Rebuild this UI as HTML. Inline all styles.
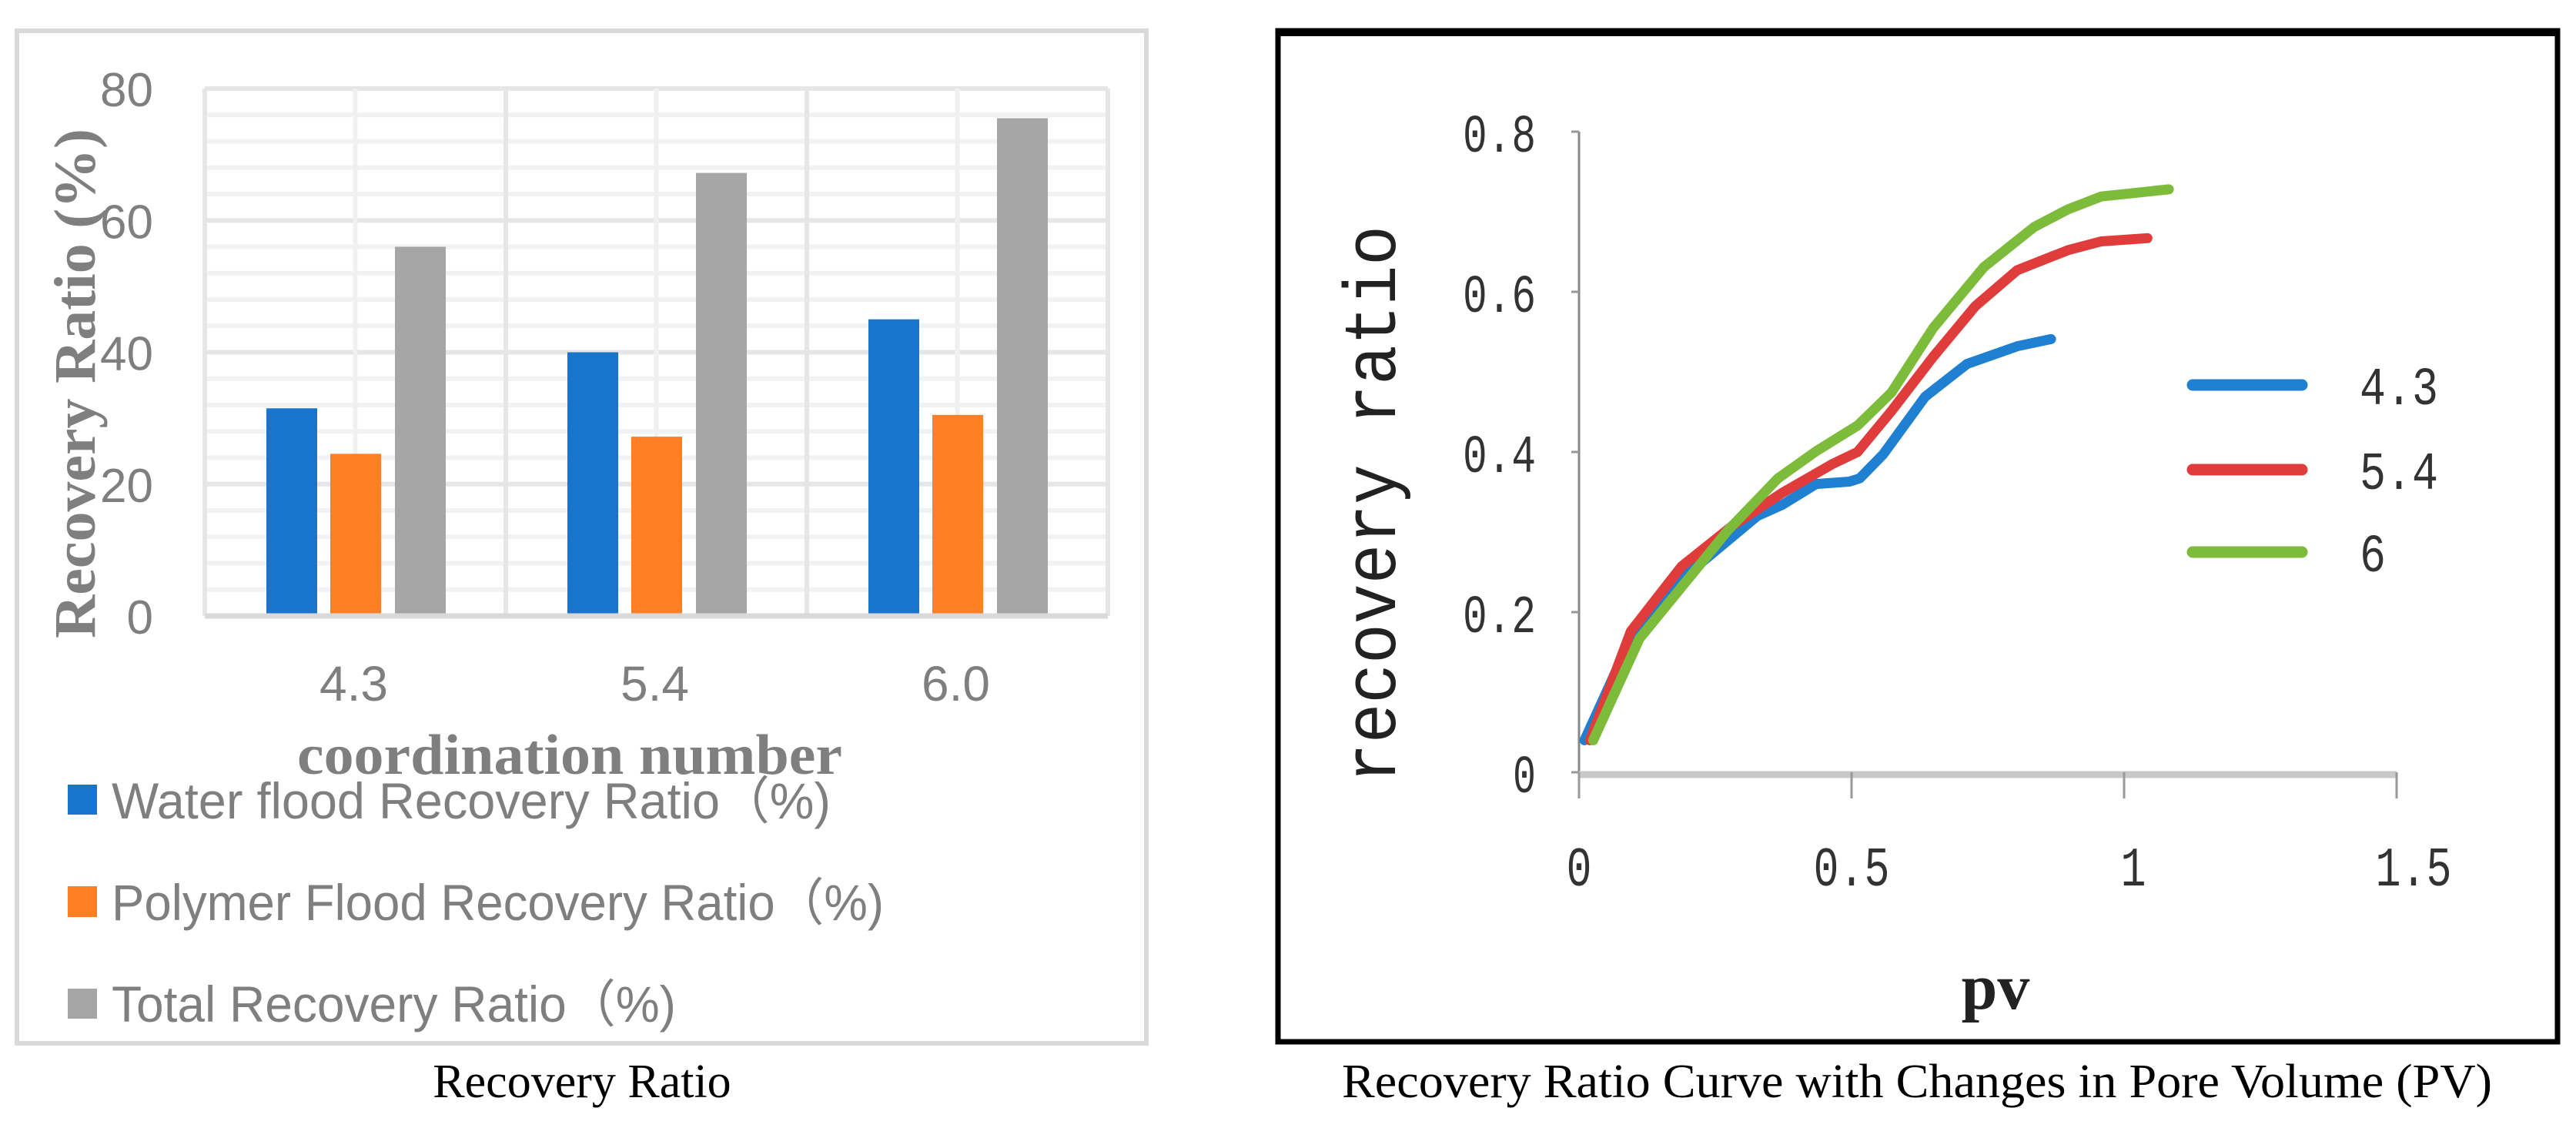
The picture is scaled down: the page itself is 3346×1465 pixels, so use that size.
<!DOCTYPE html>
<html><head><meta charset="utf-8"><style>
html,body{margin:0;padding:0;background:#fff;}
svg{display:block;}
</style></head><body>
<svg id="fig" width="3346" height="1465" viewBox="0 0 3346 1465" xmlns="http://www.w3.org/2000/svg">
<rect x="0" y="0" width="3346" height="1465" fill="#fff"/>
<g id="left">
<rect x="22" y="40" width="1467" height="1315" fill="#fff" stroke="#d9d9d9" stroke-width="6"/>
<g id="lgrid"></g><g id="lbars"></g><g id="laxes"></g>
<text x="0" y="0" transform="translate(123,498) rotate(-90)" text-anchor="middle" font-family="Liberation Serif, serif" font-weight="bold" font-size="76" fill="#7f7f7f" textLength="662" lengthAdjust="spacingAndGlyphs">Recovery Ratio (%)</text>
<text x="740" y="1005" text-anchor="middle" font-family="Liberation Serif, serif" font-weight="bold" font-size="74" fill="#7f7f7f" textLength="708" lengthAdjust="spacingAndGlyphs">coordination number</text>
<g>
<rect x="88" y="1019" width="38" height="39" fill="#1874cc"/>
<text x="145" y="1063" font-family="Liberation Sans, 'Noto Sans CJK SC', sans-serif" font-size="66" fill="#7f7f7f" textLength="934" lengthAdjust="spacingAndGlyphs">Water flood Recovery Ratio（%)</text>
<rect x="88" y="1151" width="38" height="40" fill="#ff7f27"/>
<text x="145" y="1195" font-family="Liberation Sans, 'Noto Sans CJK SC', sans-serif" font-size="66" fill="#7f7f7f" textLength="1003" lengthAdjust="spacingAndGlyphs">Polymer Flood Recovery Ratio（%)</text>
<rect x="88" y="1284" width="38" height="39" fill="#a6a6a6"/>
<text x="145" y="1327" font-family="Liberation Sans, 'Noto Sans CJK SC', sans-serif" font-size="66" fill="#7f7f7f" textLength="733" lengthAdjust="spacingAndGlyphs">Total Recovery Ratio（%)</text>
</g>
</g>
<text x="756" y="1425" text-anchor="middle" font-family="Liberation Serif, serif" font-size="62" fill="#000">Recovery Ratio</text>

<g id="right">
<rect x="1660" y="40" width="1662" height="1313" fill="#fff" stroke="#000" stroke-width="7"/>
<rect x="1660" y="37" width="1662" height="10" fill="#000"/>
<g id="raxes"></g><g id="rlines"></g>
<text x="0" y="0" transform="translate(1812,655) rotate(-90)" text-anchor="middle" font-family="Liberation Mono, monospace" font-size="96" fill="#222" textLength="724" lengthAdjust="spacingAndGlyphs">recovery ratio</text>
<text x="2592" y="1310" text-anchor="middle" font-family="Liberation Serif, serif" font-weight="bold" font-size="84" fill="#222">pv</text>
<g id="rlegend"></g>
</g>
<text x="2490" y="1425" text-anchor="middle" font-family="Liberation Serif, serif" font-size="62" fill="#000" textLength="1494" lengthAdjust="spacingAndGlyphs">Recovery Ratio Curve with Changes in Pore Volume (PV)</text>
</svg>
<script>
// ---- bar chart data ----
const barCategories = ["4.3", "5.4", "6.0"];
const waterValues = [31.5, 40, 45];
const polymerValues = [24.6, 27.2, 30.5];
const totalValues = [56, 67.2, 75.5];
const barYTicks = [0, 20, 40, 60, 80];
// ---- line chart data ----
const lineSeriesNames = ["4.3", "5.4", "6"];
const pv43 = [0.01, 0.095, 0.2, 0.327, 0.373, 0.435, 0.496, 0.515, 0.558, 0.635, 0.712, 0.804, 0.866];
const rr43 = [0.04, 0.167, 0.248, 0.32, 0.334, 0.36, 0.363, 0.367, 0.397, 0.469, 0.51, 0.532, 0.541];
const pv54 = [0.02, 0.095, 0.188, 0.28, 0.373, 0.465, 0.511, 0.573, 0.65, 0.727, 0.804, 0.897, 0.958, 1.043];
const rr54 = [0.04, 0.176, 0.257, 0.307, 0.349, 0.385, 0.4, 0.451, 0.519, 0.582, 0.627, 0.652, 0.663, 0.667];
const pv6 = [0.026, 0.111, 0.219, 0.273, 0.365, 0.435, 0.511, 0.573, 0.65, 0.743, 0.835, 0.897, 0.958, 1.082];
const rr6 = [0.04, 0.167, 0.257, 0.302, 0.367, 0.401, 0.433, 0.474, 0.555, 0.631, 0.681, 0.703, 0.719, 0.728];
const lineXTicks = [0, 0.5, 1, 1.5];
const lineYTicks = [0, 0.2, 0.4, 0.6, 0.8];

const NS = "http://www.w3.org/2000/svg";
function mk(tag, attrs, parent) {
  const e = document.createElementNS(NS, tag);
  for (const k in attrs) e.setAttribute(k, attrs[k]);
  parent.appendChild(e);
  return e;
}
// bar axes
const pL = 266, pR = 1439, pT = 115, pB = 800, yMax = 80;
const by = v => pB - (v / yMax) * (pB - pT);
const catW = (pR - pL) / barCategories.length;
const bx = i => pL + catW * i;
const lgrid = document.getElementById('lgrid');
for (let v = 0; v <= yMax; v += 4) {
  const l = mk('line', {x1: pL, x2: pR, y1: by(v), y2: by(v), stroke: v % 20 === 0 ? '#e6e6e6' : '#f2f2f2', 'stroke-width': 6}, lgrid);
  
  
}
for (let i = 0; i <= barCategories.length * 2; i++) {
  const x = pL + catW / 2 * i;
  const l = mk('line', {x1: x, x2: x, y1: pT, y2: pB, stroke: i % 2 === 0 ? '#e6e6e6' : '#f0f0f0', 'stroke-width': 6}, lgrid);
  
  
}
const laxes = document.getElementById('laxes');
const base = mk('line', {x1: pL, x2: pR, y1: pB, y2: pB, stroke: '#d9d9d9', 'stroke-width': 7}, laxes);


barYTicks.forEach(v => {
  const t = mk('text', {x: 199, y: by(v) + 23, 'text-anchor': 'end', 'font-family': 'Liberation Sans, sans-serif', 'font-size': 62, fill: '#7f7f7f'}, laxes);
  t.textContent = v;
  
  
});
const lbars = document.getElementById('lbars');
const series = [[waterValues, '#1874cc', 80], [polymerValues, '#ff7f27', 163], [totalValues, '#a6a6a6', 247]];
barCategories.forEach((c, i) => {
  series.forEach(([vals, col, off], s) => {
    const r = mk('rect', {x: bx(i) + off, y: by(vals[i]), width: 66, height: pB - by(vals[i]), fill: col}, lbars);
    
    
  });
  const t = mk('text', {x: bx(i) + catW / 2 - 2, y: 910, 'text-anchor': 'middle', 'font-family': 'Liberation Sans, sans-serif', 'font-size': 64, fill: '#7f7f7f'}, laxes);
  t.textContent = c;
  
  
});
// line chart axes
const ox = 2051, oy = 1003;
const lx = v => ox + v * 708;
const ly = v => oy - v * 1040;
const raxes = document.getElementById('raxes');
const ya = mk('line', {x1: ox, x2: ox, y1: ly(0.8), y2: 1037, stroke: '#888', 'stroke-width': 3}, raxes);


const xa = mk('line', {x1: ox, x2: lx(1.5), y1: oy + 3, y2: oy + 3, stroke: '#c8c8c8', 'stroke-width': 9}, raxes);


lineYTicks.forEach(v => {
  const tk = mk('line', {x1: ox - 10, x2: ox, y1: ly(v), y2: ly(v), stroke: '#999', 'stroke-width': 3}, raxes);
  
  
  const t = mk('text', {x: 1995, y: ly(v) + 26, 'text-anchor': 'end', 'font-family': 'Liberation Mono, monospace', 'font-size': 70, fill: '#333', 'textLength': v === 0 ? 30 : 95, 'lengthAdjust': 'spacingAndGlyphs'}, raxes);
  t.textContent = v === 0 ? '0' : v.toFixed(1);
  
  
});
lineXTicks.forEach(v => {
  const tk = mk('line', {x1: lx(v), x2: lx(v), y1: oy, y2: 1037, stroke: '#999', 'stroke-width': 3}, raxes);
  
  
  const s = String(v);
  const t = mk('text', {x: lx(v) + (v === 1.5 ? 22 : v === 1 ? 12 : 0), y: 1150, 'text-anchor': 'middle', 'font-family': 'Liberation Mono, monospace', 'font-size': 72, fill: '#333', 'textLength': s.length * 33, 'lengthAdjust': 'spacingAndGlyphs'}, raxes);
  t.textContent = s;
  
  
});
const rlines = document.getElementById('rlines');
const lineDefs = [[pv43, rr43, '#1f7fd0'], [pv54, rr54, '#e03c3c'], [pv6, rr6, '#7dbb3a']];
lineDefs.forEach(([xs, ys, col], k) => {
  const d = xs.map((x, i) => (i ? 'L' : 'M') + lx(x).toFixed(1) + ',' + ly(ys[i]).toFixed(1)).join(' ');
  const p = mk('path', {d: d, fill: 'none', stroke: col, 'stroke-width': 13, 'stroke-linejoin': 'round', 'stroke-linecap': 'round'}, rlines);
  
  
});
const rlegend = document.getElementById('rlegend');
const legY = [500, 610, 717];
lineSeriesNames.forEach((n, k) => {
  const l = mk('line', {x1: 2848, x2: 2990, y1: legY[k], y2: legY[k], stroke: lineDefs[k][2], 'stroke-width': 15, 'stroke-linecap': 'round'}, rlegend);
  
  
  const t = mk('text', {x: 3065, y: legY[k] + 25, 'font-family': 'Liberation Mono, monospace', 'font-size': 70, fill: '#333', 'textLength': n.length * 34, 'lengthAdjust': 'spacingAndGlyphs'}, rlegend);
  t.textContent = n;
  
  
});
</script>
</body></html>
